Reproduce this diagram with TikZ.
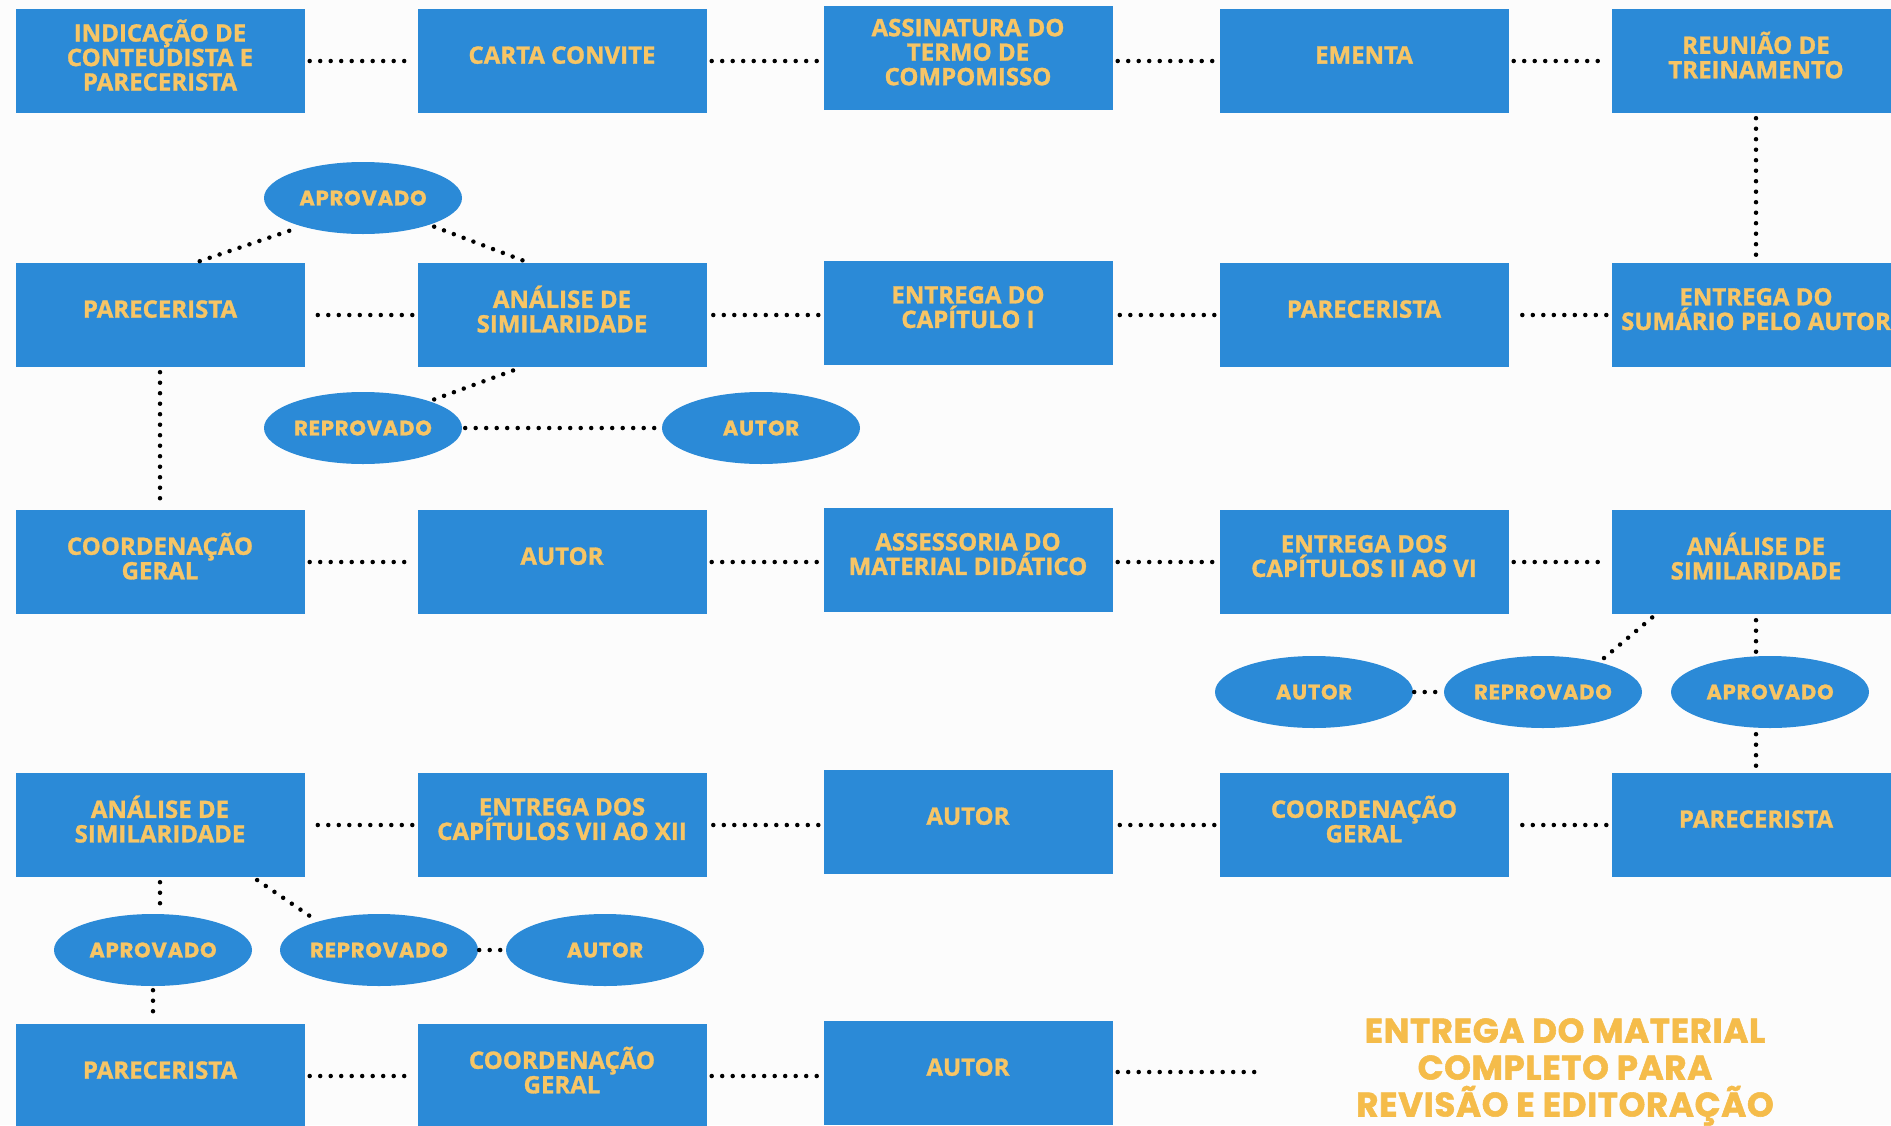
\documentclass[tikz,border=0pt]{standalone}
\usepackage{fontspec}
\usetikzlibrary{shapes.geometric}
\newfontfamily\boxfam[FakeBold=1.2]{Open Sans}
\newfontfamily\ovalfam[LetterSpace=4,FakeBold=1.2]{Poppins}
\newfontfamily\endfam[FakeBold=1.6,LetterSpace=2]{Poppins}
\definecolor{boxblue}{HTML}{2B8AD7}
\definecolor{txtyellow}{HTML}{F7C565}
\definecolor{endyellow}{HTML}{F5BC4A}
\definecolor{bgwhite}{HTML}{FCFCFC}
\begin{document}
\begin{tikzpicture}[x=1pt,y=-1pt,
  box/.style={rectangle, fill=boxblue, minimum width=289pt, minimum height=104pt, inner sep=0pt,
    font=\boxfam\bfseries\fontsize{24}{24.5}\selectfont, text=txtyellow, align=center, text depth=12pt},
  oval/.style={ellipse, fill=boxblue, minimum width=198pt, minimum height=72pt, inner sep=0pt,
    font=\ovalfam\bfseries\fontsize{21}{22}\selectfont, text=txtyellow},
  dots/.style={line width=4.5pt, line cap=round, dash pattern=on 0pt off 10.5pt, black, shorten <=5pt, shorten >=5pt},
  endtext/.style={font=\endfam\bfseries\fontsize{34}{37}\selectfont, text=endyellow, align=center, inner sep=0pt}
]
\fill[bgwhite] (0,0) rectangle (1891,1125);
\useasboundingbox (0,0) rectangle (1891,1125);

% row 1
\node[box] (b11) at (160,61) {INDICAÇÃO DE\\CONTEUDISTA E\\PARECERISTA};
\node[box] (b12) at (562,61) {CARTA CONVITE};
\node[box] (b13) at (968,58) {ASSINATURA DO\\TERMO DE\\COMPOMISSO};
\node[box] (b14) at (1364,61) {EMENTA};
\node[box] (b15) at (1756,61) {REUNIÃO DE\\TREINAMENTO};
% row 2
\node[box] (b21) at (160,315) {PARECERISTA};
\node[box] (b22) at (562,315) {ANÁLISE DE\\SIMILARIDADE};
\node[box] (b23) at (968,313) {ENTREGA DO\\CAPÍTULO I};
\node[box] (b24) at (1364,315) {PARECERISTA};
\node[box] (b25) at (1756,315) {ENTREGA DO\\SUMÁRIO PELO AUTOR};
% row 3
\node[box] (b31) at (160,562) {COORDENAÇÃO\\GERAL};
\node[box] (b32) at (562,562) {AUTOR};
\node[box] (b33) at (968,560) {ASSESSORIA DO\\MATERIAL DIDÁTICO};
\node[box] (b34) at (1364,562) {ENTREGA DOS\\CAPÍTULOS II AO VI};
\node[box] (b35) at (1756,562) {ANÁLISE DE\\SIMILARIDADE};
% row 4
\node[box] (b41) at (160,825) {ANÁLISE DE\\SIMILARIDADE};
\node[box] (b42) at (562,825) {ENTREGA DOS\\CAPÍTULOS VII AO XII};
\node[box] (b43) at (968,822) {AUTOR};
\node[box] (b44) at (1364,825) {COORDENAÇÃO\\GERAL};
\node[box] (b45) at (1756,825) {PARECERISTA};
% row 5
\node[box] (b51) at (160,1076) {PARECERISTA};
\node[box] (b52) at (562,1076) {COORDENAÇÃO\\GERAL};
\node[box] (b53) at (968,1073) {AUTOR};
\node[endtext] (fim) at (1565,1072) {ENTREGA DO MATERIAL\\COMPLETO PARA\\REVISÃO E EDITORAÇÃO};
\coordinate (fimdots) at (1259,1072);

% ellipses
\node[oval] (ap1) at (363,198) {APROVADO};
\node[oval] (rp1) at (363,428) {REPROVADO};
\node[oval] (au1) at (761,428) {AUTOR};
\node[oval] (au2) at (1314,692) {AUTOR};
\node[oval] (rp2) at (1543,692) {REPROVADO};
\node[oval] (ap2) at (1770,692) {APROVADO};
\node[oval] (ap3) at (153,950) {APROVADO};
\node[oval] (rp3) at (379,950) {REPROVADO};
\node[oval] (au3) at (605,950) {AUTOR};

% connectors row 1
\draw[dots] (b11) -- (b12);
\draw[dots] (b12.east) -- (b13.west |- b12.east);
\draw[dots] (b13.east |- b14.west) -- (b14.west);
\draw[dots] (b14) -- (b15);
\draw[dots] (b15) -- (b25);
% row 2
\draw[dots] (b25) -- (b24);
\draw[dots] (b24) -- (b23.east |- b24.west);
\draw[dots] (b23.west |- b22.east) -- (b22);
\draw[dots] (b22) -- (b21);
\draw[dots] ([xshift=35pt]b21.north) -- (ap1.205);
\draw[dots] (ap1.-22) -- ([xshift=-33pt]b22.north);
\draw[dots] (rp1.22) -- ([xshift=-40pt]b22.south);
\draw[dots, shorten <=3pt, shorten >=3pt] (rp1) -- (au1);
\draw[dots] (b21) -- (b31);
% row 3
\draw[dots] (b31) -- (b32);
\draw[dots] (b32.east) -- (b33.west |- b32.east);
\draw[dots] (b33.east |- b34.west) -- (b34.west);
\draw[dots] (b34) -- (b35);
\draw[dots] ([xshift=-100pt]b35.south) -- (rp2.28);
\draw[dots, shorten <=6pt, shorten >=4pt] (b35.south) -- (b35.south |- ap2.north);
\draw[dots, shorten <=6pt, shorten >=4pt] (b45.north |- ap2.south) -- (b45.north);
\draw[dots, shorten <=1pt, shorten >=1pt] (au2) -- (rp2);
% row 4
\draw[dots] (b45) -- (b44);
\draw[dots] (b44.west) -- (b43.east |- b44.west);
\draw[dots] (b43.west |- b42.east) -- (b42.east);
\draw[dots] (b42) -- (b41);
\draw[dots, shorten <=5pt, shorten >=4pt] (b41.south) -- (b41.south |- ap3.north);
\draw[dots] ([xshift=93pt]b41.south) -- (rp3.155);
\draw[dots, shorten <=1pt, shorten >=1pt] (rp3) -- (au3);
\draw[dots, shorten <=4pt, shorten >=5pt] (ap3.south) -- (ap3.south |- b51.north);
% row 5
\draw[dots] (b51) -- (b52);
\draw[dots] (b52.east) -- (b53.west |- b52.east);
\draw[dots, shorten >=0pt] (b53.east |- fimdots) -- (fimdots);
\end{tikzpicture}
\end{document}
